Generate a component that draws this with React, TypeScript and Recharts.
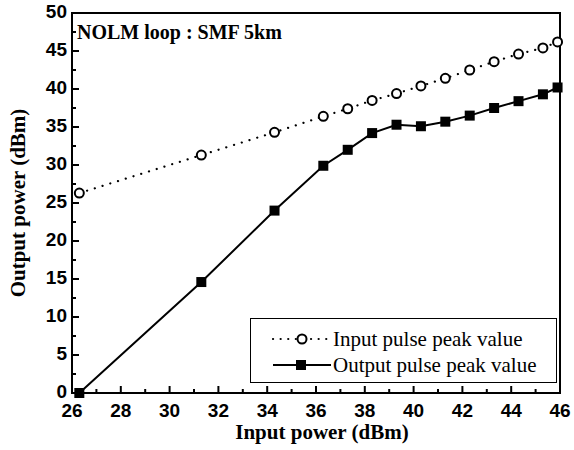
import {LineChart, Line, XAxis, YAxis, ReferenceArea, Legend} from 'recharts';

const inputPower = [26.3, 31.3, 34.3, 36.3, 37.3, 38.3, 39.3, 40.3, 41.3, 42.3, 43.3, 44.3, 45.3, 45.9];
const inputPeak = [26.3, 31.3, 34.3, 36.4, 37.4, 38.5, 39.4, 40.4, 41.4, 42.5, 43.6, 44.6, 45.4, 46.2];
const outputPeak = [0, 14.6, 24.0, 29.9, 32.0, 34.2, 35.3, 35.1, 35.7, 36.5, 37.5, 38.4, 39.3, 40.2];

const xTicks = [26, 27, 28, 29, 30, 31, 32, 33, 34, 35, 36, 37, 38, 39, 40, 41, 42, 43, 44, 45, 46];
const yTicks = [0, 2.5, 5, 7.5, 10, 12.5, 15, 17.5, 20, 22.5, 25, 27.5, 30, 32.5, 35, 37.5, 40, 42.5, 45, 47.5, 50];

const data = inputPower.map((x, i) => ({x, input: inputPeak[i], output: outputPeak[i]}));

const tickFont = {fontFamily: '"Liberation Sans", Arial, sans-serif', fontWeight: 700, fontSize: 19};
const serif = '"Liberation Serif", "Times New Roman", serif';

function XTick({x, y, payload}: any) {
  const major = payload.value % 2 === 0;
  return (
    <g>
      <line x1={x} x2={x} y1={y} y2={y - (major ? 7 : 4)} stroke="#000" strokeWidth={2} />
      {major && (
        <text x={x} y={y + 19} textAnchor="middle" dominantBaseline="middle" fill="#000" style={tickFont}>
          {payload.value}
        </text>
      )}
    </g>
  );
}

function YTick({x, y, payload}: any) {
  const major = payload.value % 5 === 0;
  return (
    <g>
      <line x1={x} x2={x + (major ? 7 : 4)} y1={y} y2={y} stroke="#000" strokeWidth={2} />
      {major && (
        <text x={x - 5} y={y} textAnchor="end" dominantBaseline="middle" fill="#000" style={tickFont}>
          {payload.value}
        </text>
      )}
    </g>
  );
}

function CircleDot({cx, cy}: any) {
  return <circle cx={cx} cy={cy} r={4.5} fill="#fff" stroke="#000" strokeWidth={2} />;
}

function SquareDot({cx, cy}: any) {
  return <rect x={cx - 5} y={cy - 5} width={10} height={10} fill="#000" />;
}

function renderLegend() {
  return (
    <div
      style={{
        width: 307,
        height: 65,
        boxSizing: 'border-box',
        border: '1.5px solid #000',
        background: '#fff',
        fontFamily: serif,
        fontSize: 21,
        color: '#000',
        paddingTop: 7,
      }}
    >
      <div style={{display: 'flex', alignItems: 'center', height: 26}}>
        <svg width={82} height={20} style={{flex: 'none'}}>
          <line x1={22} x2={80} y1={10} y2={10} stroke="#000" strokeWidth={2.2} strokeDasharray="0.1 7.5" strokeLinecap="round" />
          <circle cx={51} cy={10} r={4.5} fill="#fff" stroke="#000" strokeWidth={2} />
        </svg>
        <span>Input pulse peak value</span>
      </div>
      <div style={{display: 'flex', alignItems: 'center', height: 26}}>
        <svg width={82} height={20} style={{flex: 'none'}}>
          <line x1={22} x2={80} y1={10} y2={10} stroke="#000" strokeWidth={2} />
          <rect x={45} y={5} width={10} height={10} fill="#000" />
        </svg>
        <span>Output pulse peak value</span>
      </div>
    </div>
  );
}

export default function App() {
  return (
    <div style={{position: 'fixed', left: 0, top: 0, width: 574, height: 450, background: '#fff'}}>
      <LineChart width={574} height={450} data={data} margin={{top: 13, right: 14, bottom: 0, left: 0}}>
        <ReferenceArea x1={26} x2={46} y1={0} y2={50} fill="none" stroke="#000" strokeWidth={2} />
        <XAxis
          type="number"
          dataKey="x"
          domain={[26, 46]}
          ticks={xTicks}
          interval={0}
          height={57}
          tickSize={0}
          tickMargin={0}
          tick={<XTick />}
          axisLine={{stroke: '#000', strokeWidth: 2}}
          label={{
            value: 'Input power (dBm)',
            position: 'center',
            dx: 6,
            dy: 10,
            style: {fontFamily: serif, fontWeight: 700, fontSize: 21, fill: '#000'},
          }}
        />
        <YAxis
          type="number"
          domain={[0, 50]}
          ticks={yTicks}
          interval={0}
          width={72}
          tickSize={0}
          tickMargin={0}
          tick={<YTick />}
          axisLine={{stroke: '#000', strokeWidth: 2}}
          label={{
            value: 'Output power (dBm)',
            position: 'center',
            angle: -90,
            dx: -18,
            style: {fontFamily: serif, fontWeight: 700, fontSize: 21, fill: '#000'},
          }}
        />
        <Legend
          layout="vertical"
          align="center"
          verticalAlign="middle"
          content={renderLegend}
          wrapperStyle={{left: 250, top: 318, width: 307, height: 65}}
        />
        <Line
          type="linear"
          dataKey="input"
          name="Input pulse peak value"
          stroke="#000"
          strokeWidth={2.2}
          strokeDasharray="0.1 8"
          strokeLinecap="round"
          dot={<CircleDot />}
          isAnimationActive={false}
        />
        <Line
          type="linear"
          dataKey="output"
          name="Output pulse peak value"
          stroke="#000"
          strokeWidth={2}
          dot={<SquareDot />}
          isAnimationActive={false}
        />
      </LineChart>
      <div
        style={{
          position: 'absolute',
          left: 77,
          top: 22,
          fontFamily: serif,
          fontWeight: 700,
          fontSize: 20,
          lineHeight: '20px',
          whiteSpace: 'nowrap',
        }}
      >
        NOLM loop : SMF 5km
      </div>
    </div>
  );
}
